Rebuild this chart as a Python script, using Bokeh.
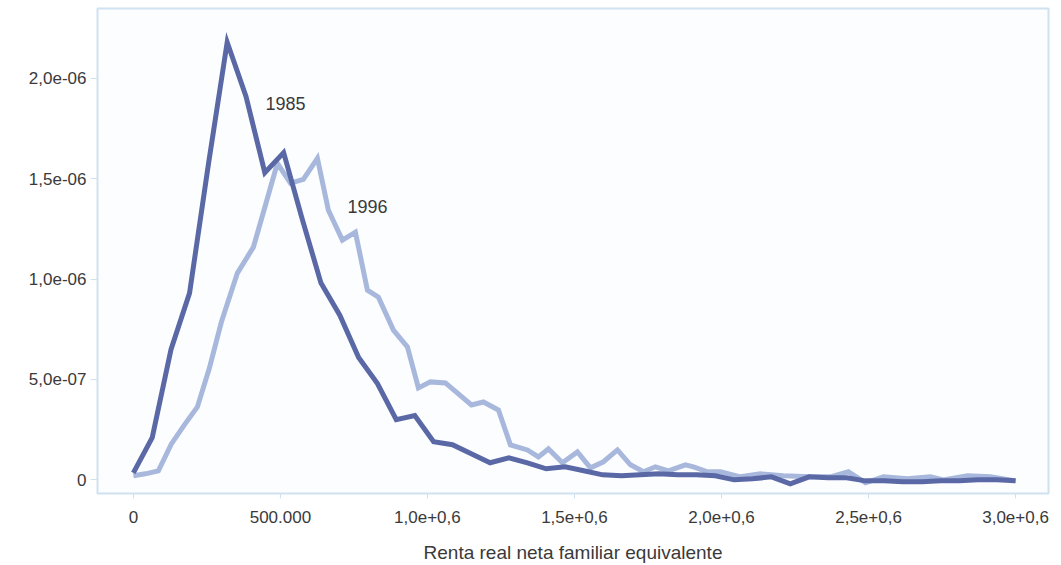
from bokeh.plotting import figure
from bokeh.models import FixedTicker, Range1d
from bokeh.embed import file_html
from bokeh.resources import INLINE
from bokeh.core.properties import value

# Income grid (euros) and kernel density estimate for 1985
x_1985 = [0, 64000, 128000, 191000, 255000, 319000, 383000, 447000, 511000, 574000,
          638000, 702000, 766000, 830000, 894000, 957000, 1021000, 1085000, 1149000, 1213000,
          1277000, 1340000, 1404000, 1468000, 1532000, 1596000, 1660000, 1723000, 1787000, 1851000,
          1915000, 1979000, 2043000, 2106000, 2170000, 2234000, 2298000, 2362000, 2426000, 2489000,
          2553000, 2617000, 2681000, 2745000, 2809000, 2872000, 2936000, 3000000]
dens_1985 = [0.035e-6, 0.21e-6, 0.65e-6, 0.93e-6, 1.57e-6, 2.18e-6, 1.91e-6, 1.53e-6, 1.63e-6, 1.30e-6,
             0.98e-6, 0.82e-6, 0.61e-6, 0.48e-6, 0.30e-6, 0.32e-6, 0.19e-6, 0.175e-6, 0.13e-6, 0.085e-6,
             0.11e-6, 0.085e-6, 0.055e-6, 0.065e-6, 0.045e-6, 0.025e-6, 0.02e-6, 0.025e-6, 0.03e-6, 0.025e-6,
             0.025e-6, 0.02e-6, 0.0, 0.005e-6, 0.015e-6, -0.02e-6, 0.015e-6, 0.01e-6, 0.01e-6, -0.005e-6,
             -0.005e-6, -0.01e-6, -0.01e-6, -0.005e-6, -0.005e-6, 0.0, 0.0, -0.005e-6]

# Income grid (euros) and kernel density estimate for 1996
x_1996 = [0, 40800, 85000, 129200, 173500, 217700, 258500, 299300, 353700, 408100,
          449000, 489700, 534000, 578000, 625800, 663200, 710800, 755000, 795900, 833300,
          884300, 931900, 969300, 1010100, 1061100, 1105300, 1149500, 1190400, 1241400, 1282200,
          1340000, 1377400, 1411400, 1459000, 1510000, 1554300, 1598500, 1646100, 1690300, 1734500,
          1775300, 1819500, 1877300, 1904500, 1952200, 1996400, 2064400, 2132400, 2210700, 2302500,
          2370500, 2431700, 2489500, 2550800, 2632400, 2710600, 2754800, 2836400, 2914700, 3000000]
dens_1996 = [0.020e-6, 0.030e-6, 0.045e-6, 0.179e-6, 0.274e-6, 0.363e-6, 0.557e-6, 0.786e-6, 1.030e-6, 1.159e-6,
             1.368e-6, 1.577e-6, 1.478e-6, 1.497e-6, 1.602e-6, 1.343e-6, 1.194e-6, 1.234e-6, 0.945e-6, 0.910e-6,
             0.746e-6, 0.662e-6, 0.458e-6, 0.488e-6, 0.483e-6, 0.428e-6, 0.373e-6, 0.388e-6, 0.348e-6, 0.174e-6,
             0.149e-6, 0.114e-6, 0.154e-6, 0.085e-6, 0.139e-6, 0.060e-6, 0.090e-6, 0.149e-6, 0.075e-6, 0.040e-6,
             0.065e-6, 0.045e-6, 0.075e-6, 0.065e-6, 0.040e-6, 0.040e-6, 0.015e-6, 0.030e-6, 0.020e-6, 0.015e-6,
             0.015e-6, 0.040e-6, -0.015e-6, 0.015e-6, 0.005e-6, 0.015e-6, 0.0, 0.020e-6, 0.015e-6, -0.005e-6]

x_ticks = [0, 500000, 1000000, 1500000, 2000000, 2500000, 3000000]
x_tick_labels = ["0", "500.000", "1,0e+0,6", "1,5e+0,6", "2,0e+0,6", "2,5e+0,6", "3,0e+0,6"]
y_ticks = [0, 5e-7, 1e-6, 1.5e-6, 2e-6]
y_tick_labels = ["0", "5,0e-07", "1,0e-06", "1,5e-06", "2,0e-06"]

series_labels = ["1985", "1996"]
label_x = [517000, 796000]
label_y = [1.876e-6, 1.363e-6]

FONT = "Liberation Sans"
TEXT = "#3a3a3a"
FRAME = "#cfe2f0"
DARK = "#5a68a6"
LIGHT = "#a8b7dc"

p = figure(width=1061, height=565, output_backend="svg", toolbar_location=None,
           x_range=Range1d(-122000, 3112000), y_range=Range1d(-0.068e-6, 2.348e-6),
           min_border_left=97, min_border_right=13, min_border_top=8, min_border_bottom=71)

p.background_fill_color = "#fcfdff"
p.border_fill_color = "white"
p.outline_line_color = FRAME
p.outline_line_width = 2
p.xgrid.visible = False
p.ygrid.visible = False

p.line(x_1996, dens_1996, line_color=LIGHT, line_width=5, line_join="miter")
p.line(x_1985, dens_1985, line_color=DARK, line_width=5, line_join="miter")

p.text(x=label_x, y=label_y, text=series_labels, text_font=value(FONT),
       text_font_size="18px", text_color=TEXT, text_align="center", text_baseline="middle")

p.xaxis.ticker = FixedTicker(ticks=x_ticks)
p.xaxis.major_label_overrides = {t: l for t, l in zip(x_ticks, x_tick_labels)}
p.yaxis.ticker = FixedTicker(ticks=y_ticks)
p.yaxis.major_label_overrides = {t: l for t, l in zip(y_ticks, y_tick_labels)}

for ax in (p.xaxis[0], p.yaxis[0]):
    ax.axis_line_color = None
    ax.major_tick_line_color = FRAME
    ax.major_tick_line_width = 1
    ax.major_tick_in = 0
    ax.minor_tick_line_color = None
    ax.major_label_text_font = FONT
    ax.major_label_text_color = TEXT

p.xaxis.major_tick_out = 5
p.xaxis.major_label_standoff = 12
p.xaxis.major_label_text_font_size = "17px"
p.xaxis.axis_label = "Renta real neta familiar equivalente"
p.xaxis.axis_label_text_font = FONT
p.xaxis.axis_label_text_font_style = "normal"
p.xaxis.axis_label_text_font_size = "19px"
p.xaxis.axis_label_text_color = TEXT
p.xaxis.axis_label_standoff = 16

p.yaxis.major_tick_out = 7
p.yaxis.major_label_standoff = 4
p.yaxis.major_label_text_font_size = "17px"

open("out.html", "w").write(file_html(p, INLINE))
